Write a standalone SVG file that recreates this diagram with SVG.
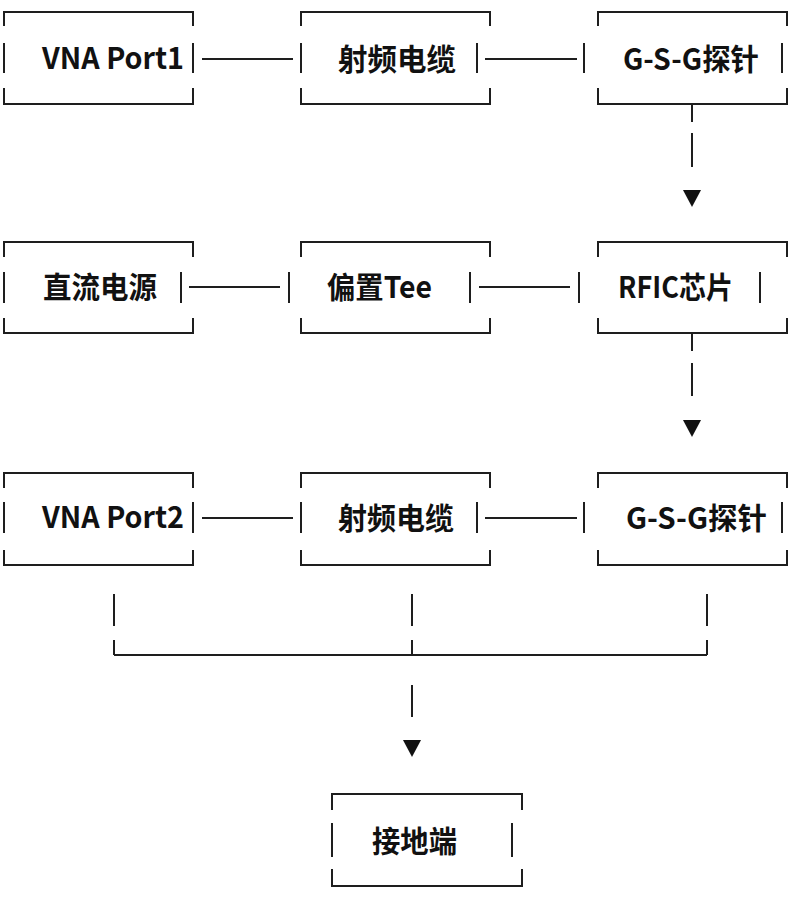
<svg xmlns="http://www.w3.org/2000/svg" width="800" height="897" viewBox="0 0 800 897">
<style>
.b{fill:none;stroke:#1e1e1e;stroke-width:2;}
.c{fill:none;stroke:#1e1e1e;stroke-width:2;}
.a{fill:#111;}
text{font-family:"Noto Sans CJK SC","Noto Sans",sans-serif;font-weight:bold;font-size:30px;fill:#111;}
</style>
<rect width="800" height="897" fill="#fff"/>
<g id="vna1"><path class="b" d="M4,26V12H193V26M4,88V104H193V88M4,43V73M193,43V73"/><text x="42" y="69" textLength="142" lengthAdjust="spacingAndGlyphs">VNA Port1</text></g>
<g id="cable1"><path class="b" d="M301,26V12H490V26M301,88V104H490V88M301,43V73M477,43V73"/><text x="338" y="70" textLength="118" lengthAdjust="spacingAndGlyphs">射频电缆</text></g>
<g id="probe1"><path class="b" d="M598,26V12H787V26M598,88V104H787V88M584,43V73M782,43V73"/><text x="623" y="70" textLength="136" lengthAdjust="spacingAndGlyphs">G-S-G探针</text></g>
<g id="dc"><path class="b" d="M4,257V242H193V257M4,318V333H193V318M4,272V303M181,272V303"/><text x="43" y="298" textLength="114" lengthAdjust="spacingAndGlyphs">直流电源</text></g>
<g id="biastee"><path class="b" d="M301,257V242H490V257M301,318V333H490V318M289,272V303M470,272V303"/><text x="327" y="298" textLength="105" lengthAdjust="spacingAndGlyphs">偏置Tee</text></g>
<g id="rfic"><path class="b" d="M598,257V242H787V257M598,318V333H787V318M579,272V303M760,272V303"/><text x="618" y="298" textLength="115" lengthAdjust="spacingAndGlyphs">RFIC芯片</text></g>
<g id="vna2"><path class="b" d="M4,488V473H193V488M4,550V565H193V550M4,502V533M193,502V533"/><text x="42" y="528" textLength="142" lengthAdjust="spacingAndGlyphs">VNA Port2</text></g>
<g id="cable2"><path class="b" d="M301,488V473H490V488M301,550V565H490V550M301,502V533M477,502V533"/><text x="338" y="529" textLength="116" lengthAdjust="spacingAndGlyphs">射频电缆</text></g>
<g id="probe2"><path class="b" d="M598,488V473H787V488M598,550V565H787V550M584,502V533M782,502V533"/><text x="626" y="529" textLength="141" lengthAdjust="spacingAndGlyphs">G-S-G探针</text></g>
<g id="ground"><path class="b" d="M332,810V794H522V810M332,869V886H522V869M332,823V857M512,823V857"/><text x="372" y="852" textLength="85" lengthAdjust="spacingAndGlyphs">接地端</text></g>
<g id="connectors">
<path class="c" d="M202,59H293M485,59H577M189,287H280M479,287H570M202,518H293M485,518H577"/>
<path class="c" d="M692,104V122M692,133V167M692,333V351M692,363V396"/>
<polygon class="a" points="683,190 701,190 692,207"/>
<polygon class="a" points="683,420 701,420 692,437"/>
<path class="c" d="M114,594V626M412,594V626M707,594V626M114,640V655M412,640V655M707,640V655M114,655H707"/>
<path class="c" d="M412,685V717"/>
<polygon class="a" points="403,740 421,740 412,757"/>
</g>
</svg>
